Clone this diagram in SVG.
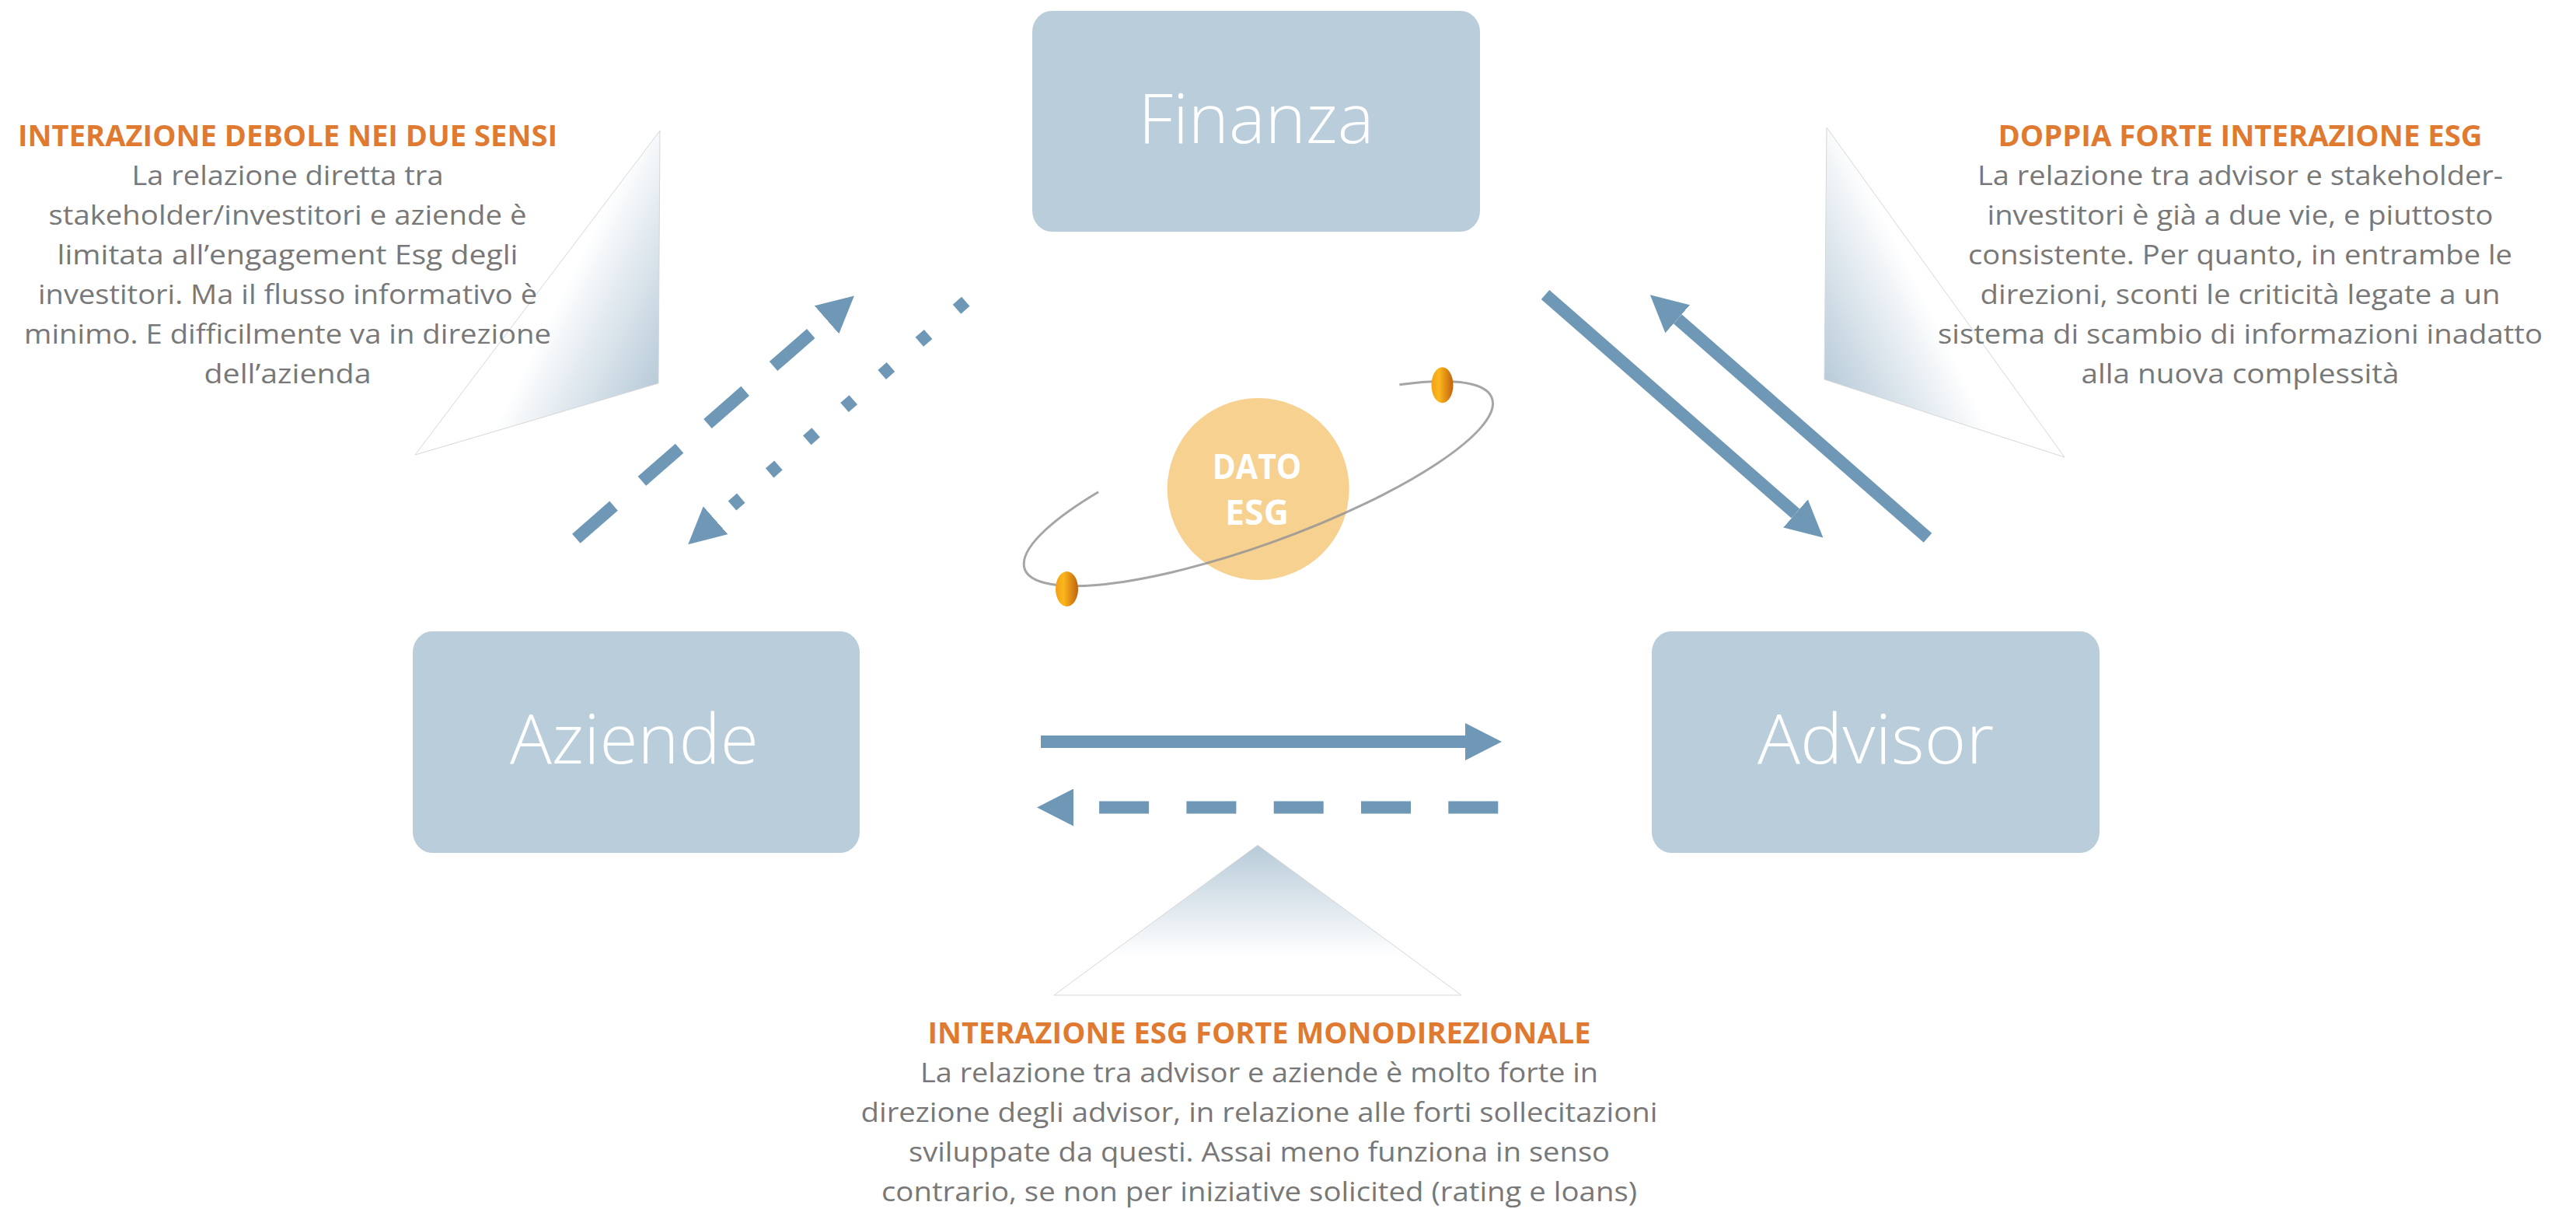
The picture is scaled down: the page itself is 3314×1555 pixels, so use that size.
<svg xmlns="http://www.w3.org/2000/svg" width="3314" height="1555" viewBox="0 0 3314 1555">
  <defs>
    <style>
      .box { fill: #b9cddb; }
      .node-label { font-family: "Open Sans", "Noto Sans", "Liberation Sans", sans-serif; font-weight: 300; font-size: 88px; fill: #ffffff; text-anchor: middle; }
      .title { font-family: "Open Sans", "Noto Sans", "Liberation Sans", sans-serif; font-weight: 700; font-size: 38px; fill: #e07a30; text-anchor: middle; }
      .body { font-family: "Open Sans", "Noto Sans", "Liberation Sans", sans-serif; font-weight: 400; font-size: 35px; fill: #787878; text-anchor: middle; }
      .core { font-family: "Open Sans", "Noto Sans", "Liberation Sans", sans-serif; font-weight: 700; font-size: 44px; fill: #ffffff; text-anchor: middle; }
      .conn { fill: none; stroke: #6f98b6; stroke-width: 16; stroke-linecap: butt; marker-end: url(#ah); }
      .dash { stroke-dasharray: 64 48.3; }
      .dot { stroke-dasharray: 15 49; }
      .callout { stroke: #d6d6d6; stroke-width: 1; }
      .orbit { fill: none; stroke: #959595; stroke-width: 3; opacity: 0.85; }
    </style>
    <marker id="ah" markerUnits="userSpaceOnUse" markerWidth="48" markerHeight="48" refX="0" refY="24" orient="auto" viewBox="0 0 48 48">
      <path d="M0,0 L47,24 L0,48 Z" fill="#6f98b6"/>
    </marker>
    <linearGradient id="gLeft" gradientUnits="userSpaceOnUse" x1="700" y1="420" x2="847" y2="493">
      <stop offset="0" stop-color="#ffffff"/>
      <stop offset="1" stop-color="#b8cbd9"/>
    </linearGradient>
    <linearGradient id="gRight" gradientUnits="userSpaceOnUse" x1="2494" y1="420" x2="2347" y2="493">
      <stop offset="0" stop-color="#ffffff"/>
      <stop offset="1" stop-color="#b8cbd9"/>
    </linearGradient>
    <linearGradient id="gBottom" gradientUnits="userSpaceOnUse" x1="0" y1="1087" x2="0" y2="1230">
      <stop offset="0" stop-color="#b8cbd9"/>
      <stop offset="1" stop-color="#ffffff"/>
    </linearGradient>
    <linearGradient id="gPlanet" x1="0" y1="0" x2="1" y2="0">
      <stop offset="0" stop-color="#f2a01a"/>
      <stop offset="0.35" stop-color="#fbb71c"/>
      <stop offset="1" stop-color="#c2610e"/>
    </linearGradient>
  </defs>

  <rect width="3314" height="1555" fill="#ffffff"/>

  <!-- Callout: left -->
  <g id="callout-left">
    <polygon class="callout" points="849,168 847,493 534,585" fill="url(#gLeft)"/>
    <text class="title" x="370" y="188" textLength="694" lengthAdjust="spacingAndGlyphs">INTERAZIONE DEBOLE NEI DUE SENSI</text>
    <text class="body" x="370" y="238" textLength="401" lengthAdjust="spacingAndGlyphs">La relazione diretta tra</text>
    <text class="body" x="370" y="289" textLength="615" lengthAdjust="spacingAndGlyphs">stakeholder/investitori e aziende è</text>
    <text class="body" x="370" y="340" textLength="593" lengthAdjust="spacingAndGlyphs">limitata all’engagement Esg degli</text>
    <text class="body" x="370" y="391" textLength="642" lengthAdjust="spacingAndGlyphs">investitori. Ma il flusso informativo è</text>
    <text class="body" x="370" y="442" textLength="678" lengthAdjust="spacingAndGlyphs">minimo. E difficilmente va in direzione</text>
    <text class="body" x="370" y="493" textLength="215" lengthAdjust="spacingAndGlyphs">dell’azienda</text>
  </g>

  <!-- Callout: right -->
  <g id="callout-right">
    <polygon class="callout" points="2350,164 2347,488 2656,588" fill="url(#gRight)"/>
    <text class="title" x="2882" y="188" textLength="623" lengthAdjust="spacingAndGlyphs">DOPPIA FORTE INTERAZIONE ESG</text>
    <text class="body" x="2882" y="238" textLength="676" lengthAdjust="spacingAndGlyphs">La relazione tra advisor e stakeholder-</text>
    <text class="body" x="2882" y="289" textLength="651" lengthAdjust="spacingAndGlyphs">investitori è già a due vie, e piuttosto</text>
    <text class="body" x="2882" y="340" textLength="700" lengthAdjust="spacingAndGlyphs">consistente. Per quanto, in entrambe le</text>
    <text class="body" x="2882" y="391" textLength="669" lengthAdjust="spacingAndGlyphs">direzioni, sconti le criticità legate a un</text>
    <text class="body" x="2882" y="442" textLength="778" lengthAdjust="spacingAndGlyphs">sistema di scambio di informazioni inadatto</text>
    <text class="body" x="2882" y="493" textLength="409" lengthAdjust="spacingAndGlyphs">alla nuova complessità</text>
  </g>

  <!-- Callout: bottom -->
  <g id="callout-bottom">
    <polygon class="callout" points="1618,1087 1880,1280 1356,1280" fill="url(#gBottom)"/>
    <text class="title" x="1620" y="1342" textLength="853" lengthAdjust="spacingAndGlyphs">INTERAZIONE ESG FORTE MONODIREZIONALE</text>
    <text class="body" x="1620" y="1392" textLength="872" lengthAdjust="spacingAndGlyphs">La relazione tra advisor e aziende è molto forte in</text>
    <text class="body" x="1620" y="1443" textLength="1025" lengthAdjust="spacingAndGlyphs">direzione degli advisor, in relazione alle forti sollecitazioni</text>
    <text class="body" x="1620" y="1494" textLength="902" lengthAdjust="spacingAndGlyphs">sviluppate da questi. Assai meno funziona in senso</text>
    <text class="body" x="1620" y="1545" textLength="972" lengthAdjust="spacingAndGlyphs">contrario, se non per iniziative solicited (rating e loans)</text>
  </g>

  <!-- Nodes -->
  <g id="node-finanza">
    <rect class="box" x="1328" y="14" width="576" height="284" rx="25" ry="27"/>
    <text class="node-label" x="1616" y="184" textLength="303" lengthAdjust="spacingAndGlyphs">Finanza</text>
  </g>
  <g id="node-aziende">
    <rect class="box" x="531" y="812" width="575" height="285" rx="25" ry="27"/>
    <text class="node-label" x="816" y="982" textLength="320" lengthAdjust="spacingAndGlyphs">Aziende</text>
  </g>
  <g id="node-advisor">
    <rect class="box" x="2125" y="812" width="576" height="285" rx="25" ry="27"/>
    <text class="node-label" x="2413" y="982" textLength="304" lengthAdjust="spacingAndGlyphs">Advisor</text>
  </g>

  <g id="node-dato-esg">
    <circle cx="1618.7" cy="629" r="117" fill="#f6d190"/>
    <path class="orbit" d="M1413.1,632.7 A320,77 -20.1 1 0 1800.4,494.7"/>
    <ellipse cx="1855.5" cy="495.3" rx="14" ry="23" fill="url(#gPlanet)"/>
    <ellipse cx="1372.5" cy="757.5" rx="14.5" ry="22.5" fill="url(#gPlanet)"/>
    <text class="core" x="1617" y="616" textLength="115" lengthAdjust="spacingAndGlyphs">DATO</text>
    <text class="core" x="1617" y="675" textLength="82" lengthAdjust="spacingAndGlyphs">ESG</text>
  </g>

  <!-- Connectors -->
  <g id="connectors">
    <path class="conn dash" d="M741.3,692.7 L1063.5,411.3"/>
    <path class="conn dot" d="M1242.3,387.8 L920.6,669.2"/>
    <path class="conn" d="M1988,379 L2310,660.5"/>
    <path class="conn" d="M2480,691.7 L2158.2,410.3"/>
    <path class="conn" d="M1339,954 L1885,954"/>
    <path class="conn dash" d="M1927.3,1038.5 L1381,1038.5"/>
  </g>
</svg>
